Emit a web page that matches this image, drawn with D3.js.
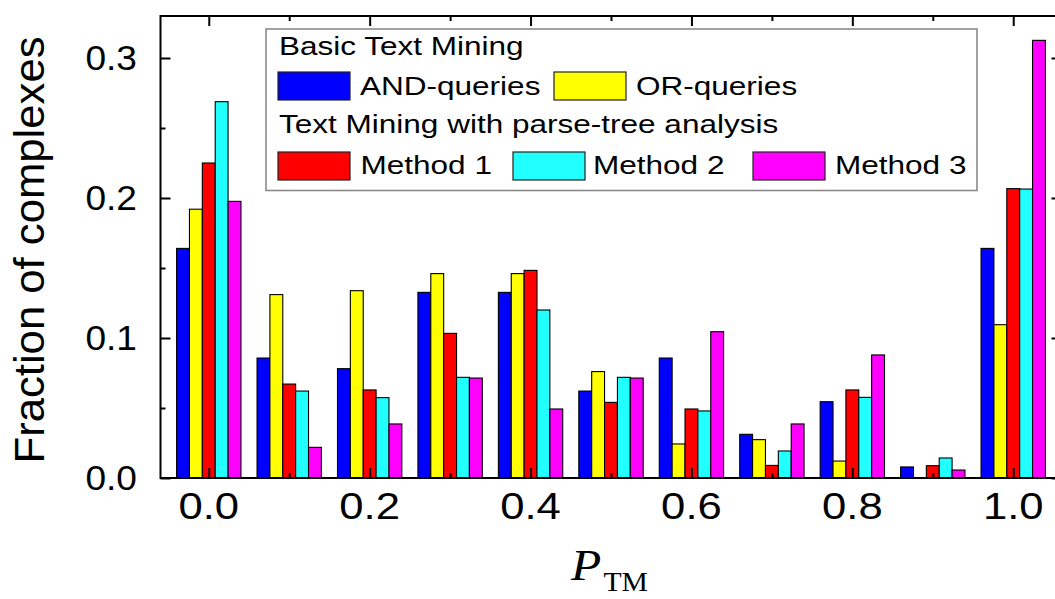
<!DOCTYPE html>
<html>
<head>
<meta charset="utf-8">
<script src="https://cdn.jsdelivr.net/npm/d3@7"></script>
<style>
  html, body { margin: 0; padding: 0; background: #ffffff; }
  svg { display: block; }
  text { fill: #000; }
</style>
</head>
<body>
<svg id="chart" width="1055" height="599"></svg>
<script>
// P_TM bins (group centres)
const pBins = [0.0, 0.1, 0.2, 0.3, 0.4, 0.5, 0.6, 0.7, 0.8, 0.9, 1.0];

// Fraction of complexes per bin, one array per method
const andQueries = [0.164, 0.0857, 0.0781, 0.1326, 0.1326, 0.0621, 0.0857, 0.0312, 0.0545, 0.0079, 0.164];
const orQueries  = [0.192, 0.131, 0.1338, 0.146, 0.146, 0.076, 0.0243, 0.0274, 0.0121, 0.0, 0.1095];
const method1    = [0.225, 0.0671, 0.0629, 0.1033, 0.1483, 0.054, 0.0493, 0.009, 0.0629, 0.0088, 0.2067];
const method2    = [0.2688, 0.0621, 0.0574, 0.0719, 0.12, 0.0719, 0.0479, 0.0193, 0.0576, 0.0143, 0.2064];
const method3    = [0.1976, 0.0219, 0.0386, 0.0714, 0.0493, 0.0714, 0.1045, 0.0386, 0.0879, 0.0057, 0.3126];

const seriesNames  = ["AND-queries", "OR-queries", "Method 1", "Method 2", "Method 3"];
const seriesColors = ["#0000ff", "#ffff00", "#ff0000", "#22ffff", "#ff00ff"];
const legendHeadings = ["Basic Text Mining", "Text Mining with parse-tree analysis"];

const xMajorTicks = [0.0, 0.2, 0.4, 0.6, 0.8, 1.0];
const xTickLabels = ["0.0", "0.2", "0.4", "0.6", "0.8", "1.0"];
const xMinorTicks = [0.1, 0.3, 0.5, 0.7, 0.9];
const yMajorTicks = [0.0, 0.1, 0.2, 0.3];
const yTickLabels = ["0.0", "0.1", "0.2", "0.3"];
const yMinorTicks = [0.05, 0.15, 0.25];

const seriesValues = [andQueries, orQueries, method1, method2, method3];

const svg = d3.select("#chart");

const plot = { left: 160.5, right: 1061.5, top: 16, bottom: 478 };

const x = d3.scaleLinear().domain([-0.06, 1.06]).range([plot.left, plot.right]);
const y = d3.scaleLinear().domain([0, 0.33]).range([plot.bottom, plot.top]);

// each bar is 0.016 wide in P_TM units; five bars share one bin
const barUnits = 0.016;
const groupPx = x(barUnits * 5) - x(0);
const inner = d3.scaleBand().domain(seriesNames).range([-groupPx / 2, groupPx / 2]).padding(0);

// text helper: horizontally stretched glyphs
function label(g, str, px, py, opts) {
  const o = Object.assign({ size: 26, sx: 1, anchor: "start", family: "'Liberation Sans', Arial, sans-serif", style: "normal", rotate: 0 }, opts || {});
  return g.append("text")
    .attr("transform", `translate(${px},${py}) rotate(${o.rotate}) scale(${o.sx},1)`)
    .attr("text-anchor", o.anchor)
    .style("font-family", o.family)
    .style("font-size", o.size + "px")
    .style("font-style", o.style)
    .text(str);
}

// bars
const rows = [];
pBins.forEach((p, i) => {
  seriesNames.forEach((name, s) => {
    const v = seriesValues[s][i];
    if (v > 0) rows.push({ p, name, v, color: seriesColors[s] });
  });
});

svg.append("g").selectAll("rect").data(rows).join("rect")
  .attr("x", d => x(d.p) + inner(d.name))
  .attr("y", d => y(d.v))
  .attr("width", inner.bandwidth())
  .attr("height", d => y(0) - y(d.v))
  .attr("fill", d => d.color)
  .attr("stroke", "#000")
  .attr("stroke-width", 1.1);

// axes on all four sides, ticks pointing inward
const axisStyle = g => {
  g.select(".domain").remove();
  g.selectAll(".tick line").attr("stroke", "#000").attr("stroke-width", 2);
  g.selectAll(".tick text").remove();
};

svg.append("g").attr("transform", `translate(0,${plot.bottom})`)
  .call(d3.axisBottom(x).tickValues(xMajorTicks).tickSizeInner(-10).tickSizeOuter(0)).call(axisStyle);
svg.append("g").attr("transform", `translate(0,${plot.bottom})`)
  .call(d3.axisBottom(x).tickValues(xMinorTicks).tickSizeInner(-5).tickSizeOuter(0)).call(axisStyle);
svg.append("g").attr("transform", `translate(0,${plot.top})`)
  .call(d3.axisTop(x).tickValues(xMajorTicks).tickSizeInner(-10).tickSizeOuter(0)).call(axisStyle);
svg.append("g").attr("transform", `translate(0,${plot.top})`)
  .call(d3.axisTop(x).tickValues(xMinorTicks).tickSizeInner(-5).tickSizeOuter(0)).call(axisStyle);
svg.append("g").attr("transform", `translate(${plot.left},0)`)
  .call(d3.axisLeft(y).tickValues(yMajorTicks).tickSizeInner(-10).tickSizeOuter(0)).call(axisStyle);
svg.append("g").attr("transform", `translate(${plot.left},0)`)
  .call(d3.axisLeft(y).tickValues(yMinorTicks).tickSizeInner(-5).tickSizeOuter(0)).call(axisStyle);
svg.append("g").attr("transform", `translate(${plot.right},0)`)
  .call(d3.axisRight(y).tickValues(yMajorTicks).tickSizeInner(-10).tickSizeOuter(0)).call(axisStyle);
svg.append("g").attr("transform", `translate(${plot.right},0)`)
  .call(d3.axisRight(y).tickValues(yMinorTicks).tickSizeInner(-5).tickSizeOuter(0)).call(axisStyle);

// frame
svg.append("rect")
  .attr("x", plot.left).attr("y", plot.top)
  .attr("width", plot.right - plot.left).attr("height", plot.bottom - plot.top)
  .attr("fill", "none").attr("stroke", "#000").attr("stroke-width", 2);

// tick labels
const tl = svg.append("g");
xMajorTicks.forEach((t, i) => label(tl, xTickLabels[i], x(t), 519, { size: 37, sx: 1.18, anchor: "middle" }));
yMajorTicks.forEach((t, i) => label(tl, yTickLabels[i], 137, y(t) + 12, { size: 35, sx: 1.06, anchor: "end" }));

// axis titles
label(svg, "Fraction of complexes", 44, 250, { size: 42, sx: 1.04, anchor: "middle", rotate: -90 });
const xt = svg.append("text")
  .attr("transform", "translate(571,580) scale(1.1,1)")
  .style("font-family", "'Liberation Serif', 'Times New Roman', serif");
xt.append("tspan").style("font-size", "45px").style("font-style", "italic").text("P");
xt.append("tspan").attr("dy", 11).attr("dx", 2).style("font-size", "27px").text("TM");

// legend
const lg = svg.append("g");
lg.append("rect")
  .attr("x", 266).attr("y", 29).attr("width", 711).attr("height", 161.5)
  .attr("fill", "#fff").attr("stroke", "#8a8a8a").attr("stroke-width", 1.6);

const legendFont = { size: 26.5, sx: 1.19 };
label(lg, legendHeadings[0], 279, 55, legendFont);
label(lg, legendHeadings[1], 279, 133, legendFont);

const legendItems = [
  { s: 0, sx: 278, sy: 72, tx: 360, ty: 95 },
  { s: 1, sx: 554, sy: 72, tx: 636, ty: 95 },
  { s: 2, sx: 278, sy: 152, tx: 360.5, ty: 174 },
  { s: 3, sx: 513, sy: 152, tx: 593, ty: 174 },
  { s: 4, sx: 753, sy: 152, tx: 835, ty: 174 }
];
legendItems.forEach(it => {
  lg.append("rect")
    .attr("x", it.sx).attr("y", it.sy).attr("width", 72).attr("height", 28)
    .attr("fill", seriesColors[it.s]).attr("stroke", "#222").attr("stroke-width", 1.2);
  label(lg, seriesNames[it.s], it.tx, it.ty, legendFont);
});
</script>
</body>
</html>
